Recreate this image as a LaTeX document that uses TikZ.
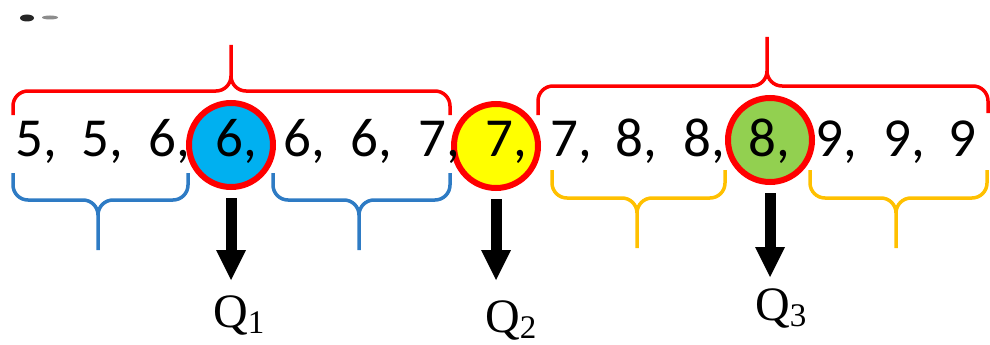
\documentclass[tikz,border=0pt]{standalone}
\usepackage{fontspec}
\newfontfamily\carlito{Carlito}
\newfontfamily\qserif{Liberation Serif}
\usetikzlibrary{arrows.meta}
\definecolor{bracered}{HTML}{FF0000}
\definecolor{braceblue}{HTML}{2E7BC4}
\definecolor{braceyellow}{HTML}{FFC000}
\definecolor{qblue}{HTML}{00B0F0}
\definecolor{qyellow}{HTML}{FFFF00}
\definecolor{qgreen}{HTML}{92D050}
\begin{document}
\begin{tikzpicture}[x=1pt,y=-1pt,
  num/.style={anchor=base west, inner sep=0pt, font=\carlito\fontsize{55}{66}\selectfont},
  qcirc/.style={circle, draw=bracered, line width=6pt, minimum size=84pt, inner sep=0pt},
  qlab/.style={anchor=base west, inner sep=0pt, font=\qserif\fontsize{48}{56}\selectfont},
  bracepath/.style={line width=3.5pt, line cap=butt, line join=round, rounded corners=15pt},
  qarrow/.style={line width=11pt, -{Triangle[length=30pt,width=30pt,line width=0pt]}, shorten <=8pt}
]
\useasboundingbox (0,0) rectangle (990,345);
% cut-off fragment at top left
\fill[black!85] (27,18) ellipse (7pt and 3.5pt);
\fill[black!45] (50,17.5) ellipse (8pt and 2pt);
% circles
\node[qcirc, fill=qblue] (c1) at (231,145) {};
\node[qcirc, fill=qyellow] (c2) at (496,146) {};
\node[qcirc, fill=qgreen] (c3) at (770,140) {};
% numbers
\node[num] (n1) at (15,156) {5,};
\node[num] (n2) at (81,156) {5,};
\node[num] (n3) at (148,156) {6,};
\node[num] (n4) at (215,156) {6,};
\node[num] (n5) at (283,156) {6,};
\node[num] (n6) at (350,156) {6,};
\node[num] (n7) at (418,156) {7,};
\node[num] (n8) at (485,156) {7,};
\node[num] (n9) at (550,156) {7,};
\node[num] (n10) at (615,156) {8,};
\node[num] (n11) at (683,156) {8,};
\node[num] (n12) at (748,156) {8,};
\node[num] (n13) at (815,156) {9,};
\node[num] (n14) at (883,156) {9,};
\node[num] (n15) at (948,156) {9};
% top braces
\draw[bracepath, draw=bracered] (13,115) -- (13,91) -- (231,91) -- (231,45)
  (450,115) -- (450,91) -- (231,91) -- (231,45);
\draw[bracepath, draw=bracered] (538,115) -- (538,86) -- (767,86) -- (767,37)
  (988,113) -- (988,86) -- (767,86) -- (767,37);
% lower braces
\draw[bracepath, draw=braceblue] (13,173) -- (13,200) -- (98,200) -- (98,250)
  (188,173) -- (188,200) -- (98,200) -- (98,250);
\draw[bracepath, draw=braceblue] (273,173) -- (273,200) -- (359,200) -- (359,250)
  (450,173) -- (450,200) -- (359,200) -- (359,250);
\draw[bracepath, draw=braceyellow] (552,170) -- (552,198) -- (637,198) -- (637,248)
  (725,170) -- (725,198) -- (637,198) -- (637,248);
\draw[bracepath, draw=braceyellow] (810,170) -- (810,198) -- (896,198) -- (896,248)
  (987,170) -- (987,198) -- (896,198) -- (896,248);
% labels
\node[qlab] (q1) at (213,327) {Q\raisebox{-6pt}{\fontsize{33}{40}\selectfont 1}};
\node[qlab] (q2) at (485,332) {Q\raisebox{-6pt}{\fontsize{33}{40}\selectfont 2}};
\node[qlab] (q3) at (755,320) {Q\raisebox{-6pt}{\fontsize{33}{40}\selectfont 3}};
\coordinate (t1) at (231,280);
\coordinate (t2) at (496,280);
\coordinate (t3) at (770,277);
\draw[qarrow] (c1.south) -- (t1);
\draw[qarrow] (c2.south) -- (t2);
\draw[qarrow] (c3.south) -- (t3);
\end{tikzpicture}
\end{document}
